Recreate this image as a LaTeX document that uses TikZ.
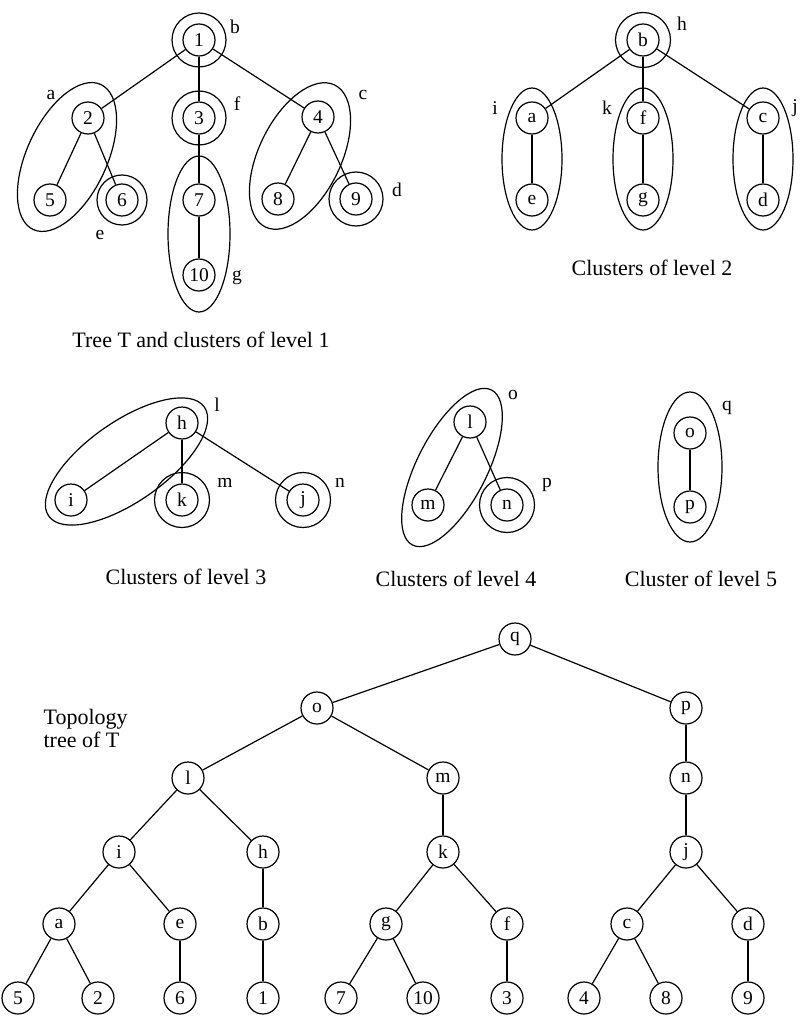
\documentclass[tikz,border=0pt]{standalone}
\usepackage{fontspec}
\setmainfont{Liberation Serif}
\usepackage{tikz}
\newcommand{\labelfont}{\fontsize{19.5}{23}\selectfont}
\newcommand{\captionfont}{\fontsize{22}{23}\selectfont}
\tikzstyle{vertex}=[circle,draw,minimum size=32pt,inner sep=0pt]
\tikzstyle{cluster}=[draw]
\tikzstyle{clabel}=[inner sep=0pt]
\tikzstyle{caption}=[font=\captionfont,inner sep=0pt]

\begin{document}
\begin{tikzpicture}[x=1pt,y=-1pt,line width=1.2pt,
    every node/.style={font=\labelfont}]
\useasboundingbox (0,0) rectangle (801,1016);
% tree T and clusters of level 1
\node[vertex](V1) at (199,40){1};
\node[vertex](V2) at (88,118){2};
\node[vertex](V3) at (199,118){3};
\node[vertex](V4) at (318,117){4};
\node[vertex](V5) at (50,200){5};
\node[vertex](V6) at (122,200){6};
\node[vertex](V7) at (199,200){7};
\node[vertex](V8) at (278,199){8};
\node[vertex](V9) at (356,199){9};
\node[vertex](V10) at (199,275){10};
\path[draw]
  (V1) edge (V2)
  (V1) edge (V3)
  (V1) edge (V4)
  (V2) edge (V5)
  (V2) edge (V6)
  (V3) edge (V7)
  (V7) edge (V10)
  (V4) edge (V8)
  (V4) edge (V9);
\draw[cluster] (V1) circle (27pt);
\draw[cluster] (V3) circle (27pt);
\draw[cluster] (V6) circle (25pt);
\draw[cluster] (V9) circle (27pt);
\draw[cluster,rotate around={65:(67,157)}] (67,157) ellipse [x radius=80pt,y radius=40pt];
\draw[cluster,rotate around={64:(300,156)}] (300,156) ellipse [x radius=79pt,y radius=41pt];
\draw[cluster] (199,234) ellipse [x radius=31pt,y radius=78pt];
\node[clabel](Cb) at (235,27){b};
\node[clabel](Ca) at (51,95){a};
\node[clabel](Cf) at (237,104){f};
\node[clabel](Cc) at (363,95){c};
\node[clabel](Ce) at (100,235){e};
\node[clabel](Cd) at (397,190){d};
\node[clabel](Cg) at (237,278){g};
\node[caption](capA) at (201,340){Tree T and clusters of level 1};
% clusters of level 2
\node[vertex](L2b) at (643,40){b};
\node[vertex](L2a) at (532,118){a};
\node[vertex](L2f) at (643,118){f};
\node[vertex](L2c) at (763,118){c};
\node[vertex](L2e) at (532,200){e};
\node[vertex](L2g) at (643,200){g};
\node[vertex](L2d) at (763,200){d};
\path[draw]
  (L2b) edge (L2a)
  (L2b) edge (L2f)
  (L2b) edge (L2c)
  (L2a) edge (L2e)
  (L2f) edge (L2g)
  (L2c) edge (L2d);
\draw[cluster] (L2b) circle (27.5pt);
\draw[cluster] (532,159) ellipse [x radius=30pt,y radius=71pt];
\draw[cluster] (643,159) ellipse [x radius=30pt,y radius=71pt];
\draw[cluster] (763,159) ellipse [x radius=30pt,y radius=71pt];
\node[clabel](Ch) at (682,24){h};
\node[clabel](Ci) at (495,108){i};
\node[clabel](Ck) at (607,108){k};
\node[clabel](Cj) at (795,108){j};
\node[caption](capB) at (652,268){Clusters of level 2};
% clusters of level 3
\node[vertex](L3h) at (182,423){h};
\node[vertex](L3i) at (71,500){i};
\node[vertex](L3k) at (182,500){k};
\node[vertex](L3j) at (303,500){j};
\path[draw]
  (L3h) edge (L3i)
  (L3h) edge (L3k)
  (L3h) edge (L3j);
\draw[cluster] (L3k) circle (27.5pt);
\draw[cluster] (L3j) circle (27.5pt);
\draw[cluster,rotate around={35:(126.5,461.5)}] (126.5,461.5) ellipse [x radius=95pt,y radius=40pt];
\node[clabel](Cl) at (217,405){l};
\node[clabel](Cm) at (225,483){m};
\node[clabel](Cn) at (340,483){n};
\node[caption](capC) at (186,577){Clusters of level 3};
% clusters of level 4
\node[vertex](L4l) at (470,422){l};
\node[vertex](L4m) at (428,505){m};
\node[vertex](L4n) at (507,505){n};
\path[draw]
  (L4l) edge (L4m)
  (L4l) edge (L4n);
\draw[cluster] (L4n) circle (27.5pt);
\draw[cluster,rotate around={63:(452,467.5)}] (452,467.5) ellipse [x radius=87pt,y radius=35pt];
\node[clabel](Co) at (513,395){o};
\node[clabel](Cp) at (547,485){p};
\node[caption](capD) at (456,579){Clusters of level 4};
% cluster of level 5
\node[vertex](L5o) at (690,433){o};
\node[vertex](L5p) at (690,507){p};
\path[draw] (L5o) edge (L5p);
\draw[cluster] (690,467) ellipse [x radius=32pt,y radius=75pt];
\node[clabel](Cq) at (727,408){q};
\node[caption](capE) at (701,579){Cluster of level 5};
% topology tree
\node[caption,align=left,anchor=west](topo) at (43,728){Topology\\tree of T};
\node[vertex](Tq) at (515,639){q};
\node[vertex](To) at (317,708){o};
\node[vertex](Tp) at (686,708){p};
\node[vertex](Tl) at (188,778){l};
\node[vertex](Tm) at (443,778){m};
\node[vertex](Tn) at (686,778){n};
\node[vertex](Ti) at (119,852){i};
\node[vertex](Th) at (263,852){h};
\node[vertex](Tk) at (443,852){k};
\node[vertex](Tj) at (686,852){j};
\node[vertex](Ta) at (59,924){a};
\node[vertex](Te) at (180,924){e};
\node[vertex](Tb) at (263,924){b};
\node[vertex](Tg) at (386,924){g};
\node[vertex](Tf) at (507,924){f};
\node[vertex](Tc) at (627,924){c};
\node[vertex](Td) at (748,924){d};
\node[vertex](T5) at (18,998){5};
\node[vertex](T2) at (98,998){2};
\node[vertex](T6) at (180,998){6};
\node[vertex](T1) at (263,998){1};
\node[vertex](T7) at (341,998){7};
\node[vertex](T10) at (423,998){10};
\node[vertex](T3) at (507,998){3};
\node[vertex](T4) at (584,998){4};
\node[vertex](T8) at (666,998){8};
\node[vertex](T9) at (748,998){9};
\path[draw]
  (Tq) edge (To)
  (Tq) edge (Tp)
  (To) edge (Tl)
  (To) edge (Tm)
  (Tp) edge (Tn)
  (Tl) edge (Ti)
  (Tl) edge (Th)
  (Tm) edge (Tk)
  (Tn) edge (Tj)
  (Ti) edge (Ta)
  (Ti) edge (Te)
  (Th) edge (Tb)
  (Tk) edge (Tg)
  (Tk) edge (Tf)
  (Tj) edge (Tc)
  (Tj) edge (Td)
  (Ta) edge (T5)
  (Ta) edge (T2)
  (Te) edge (T6)
  (Tb) edge (T1)
  (Tg) edge (T7)
  (Tg) edge (T10)
  (Tf) edge (T3)
  (Tc) edge (T4)
  (Tc) edge (T8)
  (Td) edge (T9);
\end{tikzpicture}
\end{document}
